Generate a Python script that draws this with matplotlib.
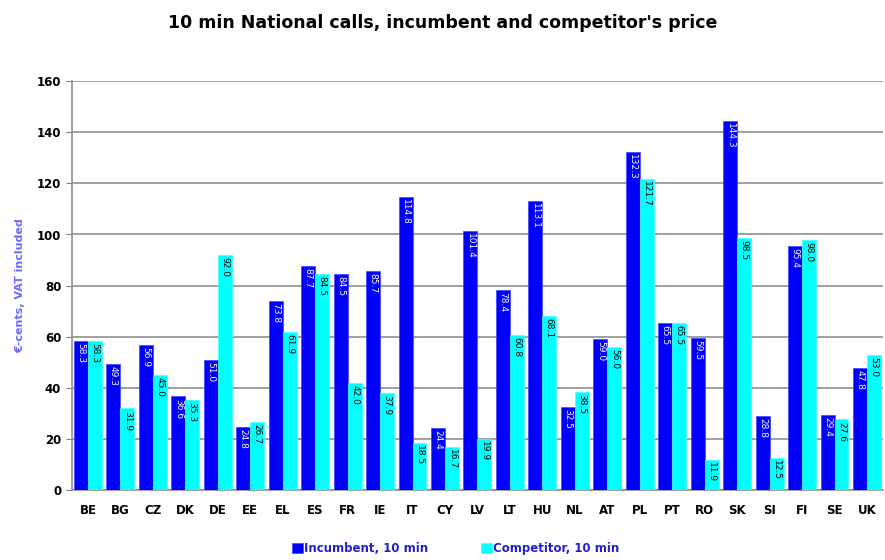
import matplotlib.pyplot as plt
import numpy as np

countries = ['BE', 'BG', 'CZ', 'DK', 'DE', 'EE', 'EL', 'ES', 'FR', 'IE', 'IT', 'CY', 'LV',
             'LT', 'HU', 'NL', 'AT', 'PL', 'PT', 'RO', 'SK', 'SI', 'FI', 'SE', 'UK']
incumbent = [58.3, 49.3, 56.9, 36.6, 51.0, 24.8, 73.8, 87.7, 84.5, 85.7, 114.8, 24.4, 101.4,
             78.4, 113.1, 32.5, 59.0, 132.3, 65.5, 59.5, 144.3, 28.8, 95.4, 29.4, 47.8]
competitor = [58.3, 31.9, 45.0, 35.3, 92.0, 26.7, 61.9, 84.5, 42.0, 37.9, 18.5, 16.7, 19.9,
              60.8, 68.1, 38.5, 56.0, 121.7, 65.5, 11.9, 98.5, 12.5, 98.0, 27.6, 53.0]
yticks = [0, 20, 40, 60, 80, 100, 120, 140, 160]

fig = plt.figure(figsize=(8.85, 5.6), dpi=100)
ax = fig.add_axes([0.081, 0.125, 0.917, 0.730])

x = np.arange(len(countries))
w = 0.43
b1 = ax.bar(x - w/2, incumbent, w, color='#0000ff', edgecolor='#4040ff', linewidth=0.5,
            label='Incumbent, 10 min', zorder=3)
b2 = ax.bar(x + w/2, competitor, w, color='#00ffff', edgecolor='#40ffff', linewidth=0.5,
            label='Competitor, 10 min', zorder=3)

# value labels inside the top of each bar
for xi, v in zip(x, incumbent):
    ax.text(xi - w/2, v - 0.8, f'{v:.1f}', rotation=-90, ha='center', va='top',
            fontsize=6.5, color='white', zorder=4)
for xi, v in zip(x, competitor):
    ax.text(xi + w/2, v - 0.8, f'{v:.1f}', rotation=-90, ha='center', va='top',
            fontsize=6.5, color='black', zorder=4)

ax.set_xlim(-0.5, len(countries) - 0.5)
ax.set_ylim(0, 160)
ax.set_yticks(yticks)
ax.set_xticks(x)
ax.set_xticklabels(countries, fontsize=8.5, fontweight='bold')
ax.tick_params(axis='y', labelsize=8.5, length=4, color='#808080')
ax.tick_params(axis='x', length=0, pad=10)
for lab in ax.get_yticklabels():
    lab.set_fontweight('bold')
ax.yaxis.grid(True, color='#909090', linewidth=1.2, zorder=0)
for s in ['top', 'right']:
    ax.spines[s].set_visible(False)
for s in ['left', 'bottom']:
    ax.spines[s].set_color('#909090')
    ax.spines[s].set_linewidth(1.2)

ax.set_ylabel('€-cents, VAT included', fontsize=8, fontweight='bold', color='#6a6aff', labelpad=8)

fig.suptitle("10 min National calls, incumbent and competitor's price", x=0.5, y=0.975,
             fontsize=12.5, fontweight='bold')

leg = fig.legend(handles=[b1, b2], loc='center', bbox_to_anchor=(0.515, 0.02), ncol=2,
                 frameon=False, fontsize=8.5, handlelength=0.9, handleheight=0.9,
                 handletextpad=0.1, columnspacing=4.5)
for t in leg.get_texts():
    t.set_color('#2020d0')
    t.set_fontweight('bold')

fig.savefig('out.png', dpi=100)
